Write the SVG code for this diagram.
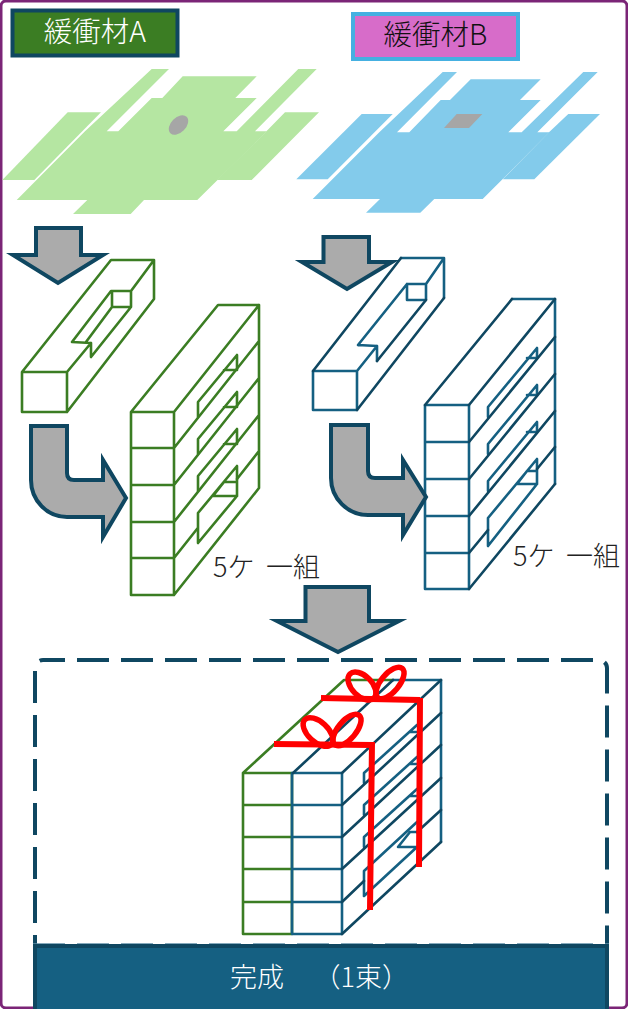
<svg xmlns="http://www.w3.org/2000/svg" width="628" height="1009" viewBox="0 0 628 1009">
<style>
text{font-family:"Noto Sans CJK JP","Noto Sans",sans-serif;font-weight:300}
.g,.b,.d,.k{fill:none;stroke-width:2.600;stroke-linejoin:round;stroke-linecap:round}
.g{stroke:#3b7d23}.b{stroke:#156082}.d{stroke:#0f4761}
.arrow{fill:#ababab;stroke:#0f4761;stroke-width:4;stroke-miterlimit:10}
.red{fill:none;stroke:#f00;stroke-width:6}
.bow{fill:none;stroke:#f00;stroke-width:5.500}
.lg{fill:#b5e6a2}.lb{fill:#83cbeb}.gray{fill:#a6a6a6}
.dash{fill:none;stroke:#0f4761;stroke-width:4;stroke-dasharray:32 12}
</style>
<rect x="0" y="0" width="628" height="1009" fill="#fff"/>
<rect x="1" y="1" width="626" height="1007" rx="5" fill="none" stroke="#7b2577" stroke-width="3"/>

<g id="label-a"><rect x="12.500" y="10.500" width="165" height="45" fill="#3b7d23" stroke="#0f4761" stroke-width="4"/><text x="95" y="42" font-size="28.500" fill="#fff" text-anchor="middle">緩衝材A</text></g>
<g id="label-b"><rect x="353" y="14" width="165" height="45" fill="#d76cc9" stroke="#45b0e1" stroke-width="4"/><text x="435.500" y="45" font-size="28.500" fill="#111" text-anchor="middle">緩衝材B</text></g>

<g id="sheet-a">
<polygon class="lg" points="67.700,112.300 101,112.300 34.300,180 2.300,180"/>
<polygon class="lg" points="85,131.300 151.700,69 169,69 106.700,131.300 118.300,131.300 151.700,98 162.300,98 182.700,76.300 256.700,76.300 235.300,98 256.700,98 223.300,131.300 236.700,131.300 298.300,69 316.700,69 255,131.300 266.700,131.300 197.300,200 144,200 130.700,214 73,214 87.300,200 16.700,200"/>
<polygon class="lg" points="285,112.300 319,112.300 251.700,180 217,180 266.400,131.300"/>
<ellipse class="gray" cx="178.500" cy="125" rx="11.500" ry="7.500" transform="rotate(-45 178.500 125)"/>
</g>
<g id="sheet-b">
<polygon class="lb" points="361.700,114 392.700,114 327.700,179.300 296.300,179.300"/>
<polygon class="lb" points="379.300,132.300 442.700,72 457,72 397,132.300 409.300,132.300 440.700,100 450,100 470.700,79.300 540.700,79.300 520,100 540.700,100 508.300,132.300 521.700,132.300 583.300,72 597.700,72 537.300,132.300 549.300,132.300 482.700,199 434.300,199 420.300,212.700 366,212.700 380,199 312.700,199"/>
<polygon class="lb" points="568.300,114 600,114 534.300,179.300 502.700,179.300 549,132.300"/>
<polygon class="gray" points="456.700,114 482.300,114 469,128 444,128"/>
</g>

<g id="block-a">
<path class="g" d="M22 372H67V412H22ZM22 372L111 260H154L131 291M67 412L154 299V260M91 343L72 342L111 291H131V307H112L86 342M112 291V307M131 307L91 357V343M91 343L67 372"/>
</g>
<g id="stack-a">
<path class="g" d="M131 412H174V595H131ZM131 448H174M131 485H174M131 522H174M131 558H174M131 412L218 305H259V488L174 595M174 412L259 305M174 448L259 341M174 485L259 378M174 522L259 415M174 558L197 529M237 479L259 451"/>
<path class="g" d="M198 417V402L237 355V370H224M198 454V439L237 392V407H224M198 491V476L237 429V444H224M198 513L237 466V496H213L224 482H237M237 496L198 543V513"/>
</g>
<g id="block-b">
<path class="b" d="M313 371H357V410H313ZM444 258V298M401 258H444L426 284M407 284H426V300H408M407 284V300M358 345L407 284M358 345L377 346V361M377 346L357 371"/>
<path class="d" d="M313 371L401 258M357 410L444 298M426 300L377 361"/>
</g>
<g id="stack-b">
<path class="b" d="M425 405H469V589H425ZM425 442H469M425 479H469M425 516H469M425 553H469M512 299H555V484M488 417V407L537 348V358H527M488 454V444L537 385V395H527M488 491V481L537 422V432H527M488 518L537 459V484H517L527 471H537M537 484L488 546V518"/>
<path class="d" d="M425 405L512 299M469 405L555 299M469 442L555 337M469 479L555 374M469 516L555 411M469 553L488 530M537 469L555 447M469 589L555 484"/>
</g>

<g id="connectors">
<path class="arrow" d="M36 228H81V255H103L58 283L13 255H36Z"/>
<path class="arrow" d="M323.500 237H369V262H392L347 289L302 262H323.500Z"/>
<path class="arrow" d="M31 426H67V473Q67 480 74 480H103V460L126 498L103 537V517H67A36 37 0 0 1 31 480Z"/>
<path class="arrow" d="M331 425H368V471Q368 478 375 478H403V460L426 497L403 535V515H368A37 37 0 0 1 331 478Z"/>
<path class="arrow" d="M305.500 587H369V621H399L338 652L277 621H305.500Z"/>
</g>

<text id="label-5a" x="213" y="577" font-size="27" word-spacing="5.500" fill="#222">5ケ 一組</text>
<text id="label-5b" x="513" y="566" font-size="27" word-spacing="5.500" fill="#222">5ケ 一組</text>

<g id="finished">
<path class="dash" stroke-dashoffset="10" d="M43 660H599A8 8 0 0 1 607 668V946"/>
<path class="dash" stroke-dashoffset="21" d="M35 946V668A8 8 0 0 1 43 660"/>
<line x1="33" y1="944" x2="609" y2="944" stroke="#5f8ea6" stroke-width="1.500" stroke-dasharray="32 12"/>
<rect x="35" y="946" width="572" height="66" fill="#156082" stroke="#0f4761" stroke-width="4"/>
<text x="230" y="987" font-size="27" fill="#fff">完成　<tspan dx="16">（1束）</tspan></text>
</g>

<g id="bundle">
<path class="g" d="M243 773H292V934H243ZM243 805H292M243 837H292M243 869H292M243 902H292M243 773L344 680H393"/>
<path class="b" d="M292 773H342V934H292ZM292 805H342M292 837H342M292 869H342M292 902H342M393 680H441V842M364 783V773L417 725M410 732H417M364 815V805L417 757M410 764H417M364 847V837L417 789M410 796H417M364 896V871L417 822M364 896L417 847H398L410 832H417"/>
<path class="d" d="M293 773L393 680M342 773L441 680M342 805L441 713M342 837L441 745M342 869L441 778M342 902L364 881M417 832L441 810M342 934L441 842"/>
<path class="red" d="M321 698L420 700M420 698L419 867M274 744L373 745M372 742L370 910"/>
<ellipse class="bow" cx="362" cy="686" rx="17" ry="10" transform="rotate(45 362 686)"/>
<ellipse class="bow" cx="390" cy="683" rx="19" ry="9" transform="rotate(-50 390 683)"/>
<ellipse class="bow" cx="318" cy="732" rx="18" ry="10" transform="rotate(43 318 732)"/>
<ellipse class="bow" cx="347" cy="730" rx="19" ry="9" transform="rotate(-50 347 730)"/>
</g>
</svg>
